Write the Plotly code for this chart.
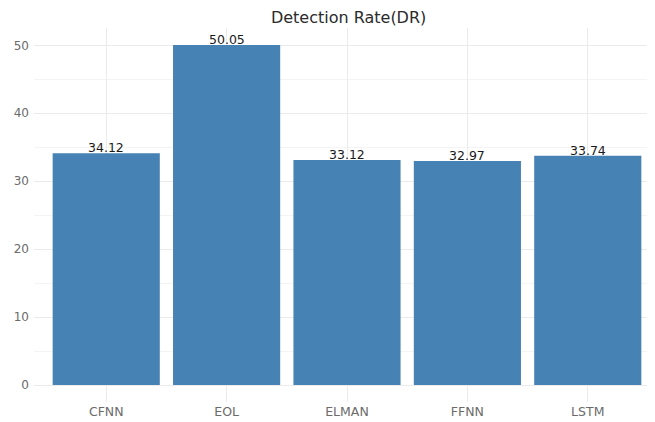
import plotly.graph_objects as go

categories = ["CFNN", "EOL", "ELMAN", "FFNN", "LSTM"]
values = [34.12, 50.05, 33.12, 32.97, 33.74]
labels = [f"{v:.2f}" for v in values]
y_ticks = [0, 10, 20, 30, 40, 50]

FONT = "DejaVu Sans, Liberation Sans, Arial, sans-serif"
xs = list(range(len(categories)))

fig = go.Figure()
fig.add_trace(go.Bar(
    x=xs, y=values,
    marker=dict(color="#4682B4", line=dict(width=0)),
    width=0.89,
))
for xi, v, lab in zip(xs, values, labels):
    fig.add_annotation(x=xi, y=v, text=lab, showarrow=False, yanchor="bottom",
                       yshift=-4, font=dict(size=12.5, color="#1a1a1a", family=FONT))

fig.update_layout(
    width=655, height=422,
    margin=dict(l=26, r=3, t=20, b=28),
    paper_bgcolor="white", plot_bgcolor="white",
    showlegend=False,
    title=dict(text="Detection Rate(DR)", x=0.52, xanchor="center", y=0.977, yanchor="middle",
               font=dict(size=16, color="#2b2b2b", family=FONT)),
    font=dict(family=FONT),
)
fig.update_xaxes(
    range=[-0.6, 4.6],
    tickvals=xs, ticktext=categories,
    showgrid=True, gridcolor="#ebebeb", gridwidth=1,
    zeroline=False, showline=False, ticks="",
    tickfont=dict(size=12.5, color="#6b6b6b"),
)
fig.update_yaxes(
    range=[-2.5, 52.55],
    tickvals=y_ticks,
    showgrid=True, gridcolor="#ebebeb", gridwidth=1,
    minor=dict(tickvals=[5, 15, 25, 35, 45], showgrid=True, gridcolor="#f4f4f4", gridwidth=0.6),
    zeroline=False, showline=False, ticks="",
    ticklabelstandoff=4,
    tickfont=dict(size=12, color="#6b6b6b"),
)
fig.write_html("out.html")
